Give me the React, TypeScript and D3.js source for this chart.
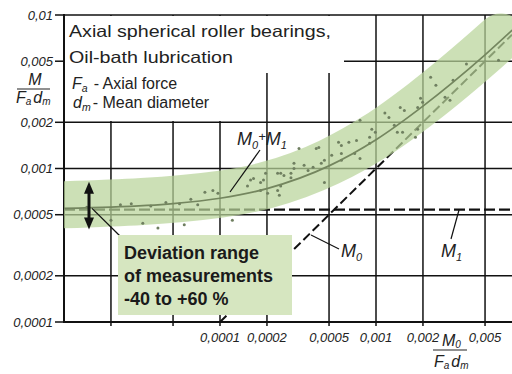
import * as d3 from 'd3';

// grid + tick values (log axes, comma decimals as in the source)
const xGrid = [2e-5, 5e-5, 1e-4, 2e-4, 5e-4, 1e-3, 2e-3, 5e-3];
const xTickVals = [1e-4, 2e-4, 5e-4, 1e-3, 2e-3, 5e-3];
const xTickLabels = ['0,0001', '0,0002', '0,0005', '0,001', '0,002', '0,005'];
const yTickVals = [1e-2, 5e-3, 2e-3, 1e-3, 5e-4, 2e-4, 1e-4];
const yTickLabels = ['0,01', '0,005', '0,002', '0,001', '0,0005', '0,0002', '0,0001'];

// M0 + M1 curve
const curveX = [1e-5, 2e-5, 5e-5, 1e-4, 2e-4, 5e-4, 1e-3, 2e-3, 5e-3, 8e-3];
const curveY = [5.5e-4, 5.6e-4, 5.9e-4, 6.4e-4, 7.4e-4, 1.04e-3, 1.54e-3, 2.55e-3, 5.5e-3, 8.5e-3];

// centre line of the green deviation band
const bandX = [1e-5, 1e-4, 2e-4, 5e-4, 1e-3, 2e-3, 5e-3, 6.3e-3];
const bandMid = [5.8e-4, 6.8e-4, 7.8e-4, 1.1e-3, 1.63e-3, 2.7e-3, 5.85e-3, 7.2e-3];

const m1Value = 5.4e-4; // M1 dashed level
const m0Start = 1e-4; // M0 = x, starts at the bottom axis

// measured points
const measX = [
  1.4e-5, 2.0e-5, 2.3e-5, 2.7e-5, 3.2e-5, 3.6e-5, 4.0e-5, 4.5e-5, 5.5e-5, 5.9e-5, 6.5e-5, 7.2e-5,
  8.0e-5, 9.0e-5, 9.7e-5, 1.2e-4, 1.5e-4, 1.57e-4, 1.64e-4, 1.82e-4, 1.82e-4, 1.9e-4, 1.96e-4,
  2.02e-4, 2.34e-4, 2.34e-4, 2.4e-4, 2.45e-4, 2.45e-4, 2.57e-4, 2.85e-4, 2.85e-4, 2.98e-4, 2.98e-4,
  3.21e-4, 3.46e-4, 3.67e-4, 3.95e-4, 4.14e-4, 4.3e-4, 4.46e-4, 4.67e-4, 4.67e-4, 5.2e-4, 5.75e-4,
  6.0e-4, 6.0e-4, 6.0e-4, 6.7e-4, 7.3e-4, 7.5e-4, 7.9e-4, 7.9e-4, 9.1e-4, 9.1e-4, 9.4e-4, 9.9e-4,
  1.14e-3, 1.21e-3, 1.31e-3, 1.37e-3, 1.43e-3, 1.48e-3, 1.52e-3, 1.79e-3, 1.85e-3, 1.85e-3, 1.93e-3,
  1.99e-3, 2.24e-3, 2.42e-3, 2.77e-3, 2.98e-3, 3.12e-3, 3.8e-3, 6.1e-3,
];
const measY = [
  5.6e-4, 4.6e-4, 5.8e-4, 5.9e-4, 4.4e-4, 5.7e-4, 4.1e-4, 6.0e-4, 5.9e-4, 4.3e-4, 6.3e-4, 5.8e-4,
  7.0e-4, 7.2e-4, 6.9e-4, 4.6e-4, 7.7e-4, 8.4e-4, 8.6e-4, 8.1e-4, 7.2e-4, 8.4e-4, 9.3e-4,
  6.9e-4, 9.3e-4, 7.2e-4, 6.7e-4, 9.3e-4, 7.7e-4, 9.0e-4, 9.3e-4, 8.7e-4, 1.08e-3, 1.0e-3,
  1.35e-3, 1.05e-3, 9.7e-4, 1.02e-3, 1.35e-3, 1.37e-3, 1.08e-3, 1.13e-3, 8.1e-4, 1.22e-3, 1.48e-3,
  1.41e-3, 1.25e-3, 1.13e-3, 1.48e-3, 1.25e-3, 1.52e-3, 1.16e-3, 2.06e-3, 1.46e-3, 1.6e-3, 1.8e-3, 1.72e-3,
  2.3e-3, 2.15e-3, 1.91e-3, 1.72e-3, 2.5e-3, 1.72e-3, 2.39e-3, 1.6e-3, 2.5e-3, 1.8e-3, 2.87e-3,
  2.7e-3, 3.93e-3, 3.49e-3, 2.91e-3, 2.78e-3, 3.76e-3, 4.8e-3, 5.08e-3,
];

const W = 512;
const H = 374;
const left = 64;
const top = 15;
const bottom = 322;

const tickFont = { fontFamily: 'Liberation Sans, Arial, sans-serif', fontStyle: 'italic', fontSize: 13, fill: '#222' } as const;
const labelFont = { fontFamily: 'Liberation Sans, Arial, sans-serif', fontStyle: 'italic', fill: '#222' } as const;

export default function App() {
  const x = d3.scaleLog().domain([1e-5, 1e-2]).range([left, left + 3 * 156]);
  const y = d3.scaleLog().domain([1e-4, 1e-2]).range([bottom, top]);
  const xMax = x.invert(W);

  const line = d3
    .line<[number, number]>()
    .x((d) => x(d[0]))
    .y((d) => y(d[1]))
    .curve(d3.curveMonotoneX);

  const curvePts = curveX.map((v, i) => [v, curveY[i]] as [number, number]);
  const bandPts = bandX.map((v, i) => [v, bandMid[i]] as [number, number]);

  const arrowX = 89;
  const aTop = y(8.2e-4);
  const aBot = y(4.0e-4);

  return (
    <svg width={W} height={H} style={{ position: 'absolute', left: 0, top: 0, background: '#fff' }}>
      <defs>
        <clipPath id="plot">
          <rect x={left} y={0} width={W - left} height={bottom} />
        </clipPath>
      </defs>

      {/* grid */}
      {yTickVals.map((v) => (
        <line key={'h' + v} x1={left} x2={W} y1={y(v)} y2={y(v)} stroke="#111" strokeWidth={v === 1e-4 ? 2 : 1.5} />
      ))}
      {xGrid.map((v) => (
        <line key={'v' + v} x1={x(v)} x2={x(v)} y1={top} y2={bottom + 4} stroke="#111" strokeWidth={1.5} />
      ))}
      <line x1={left} x2={left} y1={top - 1} y2={bottom + 1} stroke="#111" strokeWidth={2} />

      {/* white backing of the title block */}
      <rect x={left + 1} y={top + 1} width={279} height={57} fill="#fff" />
      <rect x={left + 1} y={top + 1} width={180} height={105} fill="#fff" />

      {/* M1 and M0 dashed lines */}
      <line x1={left} x2={W} y1={y(m1Value)} y2={y(m1Value)} stroke="#111" strokeWidth={2.2} strokeDasharray="11 4" />
      <line
        x1={x(m0Start)}
        y1={y(m0Start)}
        x2={x(xMax)}
        y2={y(xMax)}
        stroke="#111"
        strokeWidth={2}
        strokeDasharray="9 4"
      />

      {/* deviation band */}
      <path
        d={line(bandPts) ?? ''}
        fill="none"
        stroke="#b9d49a"
        strokeOpacity={0.72}
        strokeWidth={47}
        strokeLinecap="round"
        strokeLinejoin="round"
        clipPath="url(#plot)"
      />

      {/* measurements */}
      {measX.map((v, i) => (
        <circle key={'m' + i} cx={x(v)} cy={y(measY[i])} r={1.5} fill="#6f7f60" />
      ))}
      <path d={line(curvePts) ?? ''} fill="none" stroke="#74865f" strokeWidth={1.7} clipPath="url(#plot)" />

      {/* axes ticks + labels */}
      {yTickVals.map((v, i) => (
        <g key={'yt' + v}>
          <line x1={55} x2={left} y1={y(v)} y2={y(v)} stroke="#111" strokeWidth={1.5} />
          <text x={53} y={y(v) + 4.5} textAnchor="end" {...tickFont}>
            {yTickLabels[i]}
          </text>
        </g>
      ))}
      {xTickVals.map((v, i) => (
        <text key={'xt' + v} x={x(v)} y={342} textAnchor="middle" {...tickFont}>
          {xTickLabels[i]}
        </text>
      ))}

      {/* y axis title */}
      <g {...labelFont} fontSize={16}>
        <text x={35} y={85} textAnchor="middle">M</text>
        <line x1={17} x2={50} y1={89} y2={89} stroke="#222" strokeWidth={1.2} />
        <text x={16} y={103}>
          F<tspan fontSize={10} dy={2}>a</tspan>
          <tspan dx={2} dy={-2}>d</tspan>
          <tspan fontSize={10} dy={2}>m</tspan>
        </text>
      </g>

      {/* x axis title */}
      <g {...labelFont} fontSize={16}>
        <text x={442} y={346}>
          M<tspan fontSize={10} dy={2}>0</tspan>
        </text>
        <line x1={433} x2={467} y1={350} y2={350} stroke="#222" strokeWidth={1.2} />
        <text x={434} y={367}>
          F<tspan fontSize={10} dy={2}>a</tspan>
          <tspan dx={2} dy={-2}>d</tspan>
          <tspan fontSize={10} dy={2}>m</tspan>
        </text>
      </g>

      {/* title block */}
      <g fontFamily="Liberation Sans, Arial, sans-serif" fill="#222">
        <text x={69} y={37} fontSize={16.5} textLength={262} lengthAdjust="spacingAndGlyphs">
          Axial spherical roller bearings,
        </text>
        <text x={69} y={63} fontSize={16.5} textLength={164} lengthAdjust="spacingAndGlyphs">
          Oil-bath lubrication
        </text>
        <text x={72} y={89} fontSize={16}>
          <tspan fontStyle="italic">F</tspan>
          <tspan fontStyle="italic" fontSize={10.5} dy={3}>a</tspan>
          <tspan dx={6} dy={-3}>- Axial force</tspan>
        </text>
        <text x={73} y={108} fontSize={16}>
          <tspan fontStyle="italic">d</tspan>
          <tspan fontStyle="italic" fontSize={10.5} dy={3}>m</tspan>
          <tspan dx={2} dy={-3}>- Mean diameter</tspan>
        </text>
      </g>

      {/* curve labels */}
      <g {...labelFont} fontSize={18}>
        <text x={237} y={145}>
          M<tspan fontSize={11} dy={4}>0</tspan>
          <tspan fontSize={13} dy={-8}>+</tspan>
          <tspan dy={4}>M</tspan>
          <tspan fontSize={11} dy={4}>1</tspan>
        </text>
        <text x={341} y={257}>
          M<tspan fontSize={11} dy={4}>0</tspan>
        </text>
        <text x={441} y={257}>
          M<tspan fontSize={11} dy={4}>1</tspan>
        </text>
      </g>
      <line x1={260} y1={150} x2={230} y2={192} stroke="#111" strokeWidth={1.2} />
      <line x1={311} y1={235} x2={339} y2={249} stroke="#111" strokeWidth={1.2} />
      <line x1={459} y1={210} x2={451} y2={239} stroke="#111" strokeWidth={1.2} />

      {/* deviation arrow */}
      <line x1={arrowX} x2={arrowX} y1={aTop + 8} y2={aBot - 8} stroke="#111" strokeWidth={3} />
      <path d={`M${arrowX},${aTop} L${arrowX - 5},${aTop + 12} L${arrowX + 5},${aTop + 12} Z`} fill="#111" />
      <path d={`M${arrowX},${aBot} L${arrowX - 5},${aBot - 12} L${arrowX + 5},${aBot - 12} Z`} fill="#111" />
      <line x1={arrowX + 3} y1={y(5.5e-4)} x2={122} y2={238} stroke="#111" strokeWidth={1.3} />

      {/* annotation box */}
      <rect x={118} y={235} width={174} height={80} fill="#d6e6c0" />
      <g fontFamily="Liberation Sans, Arial, sans-serif" fontWeight="bold" fontSize={18} fill="#1a1a1a">
        <text x={124} y={259}>Deviation range</text>
        <text x={124} y={282}>of measurements</text>
        <text x={124} y={305}>-40 to +60 %</text>
      </g>
    </svg>
  );
}
